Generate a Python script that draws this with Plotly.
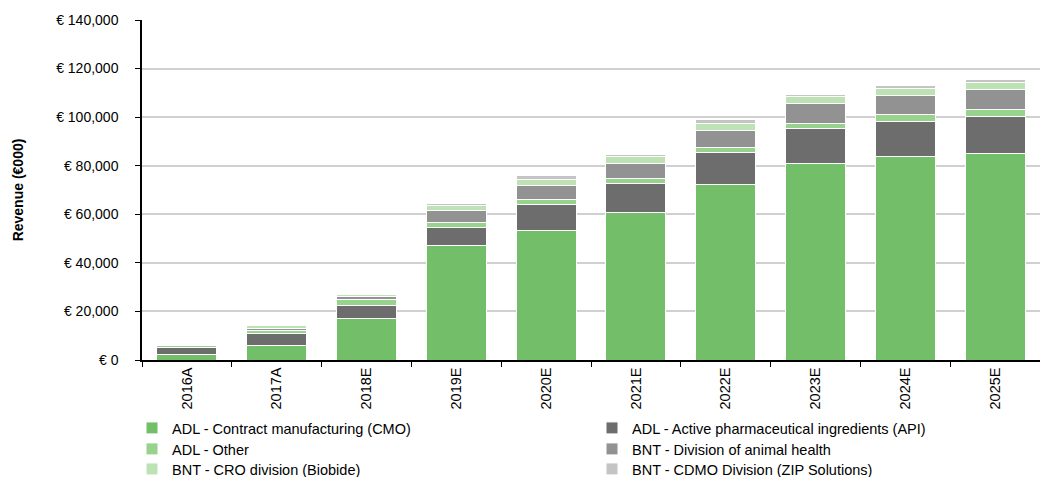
import plotly.graph_objects as go

years = ["2016A", "2017A", "2018E", "2019E", "2020E", "2021E", "2022E", "2023E", "2024E", "2025E"]

adl_cmo = [2100, 5900, 16900, 47100, 53200, 60800, 72200, 81000, 83600, 85100]
adl_api = [3200, 5100, 5600, 7400, 10700, 11800, 13200, 14300, 14500, 15200]
adl_other = [800, 1000, 2300, 2300, 2200, 2300, 2300, 2200, 2900, 3000]
bnt_animal = [300, 900, 1200, 4600, 5800, 6200, 6700, 8100, 8000, 8100]
bnt_cro = [500, 1200, 1100, 2300, 2500, 2900, 3100, 2900, 3000, 2900]
bnt_cdmo = [200, 350, 200, 800, 1650, 800, 1400, 800, 1000, 1200]

names = [
    "ADL - Contract manufacturing (CMO)",
    "ADL - Active pharmaceutical ingredients (API)",
    "ADL - Other",
    "BNT - Division of animal health",
    "BNT - CRO division (Biobide)",
    "BNT - CDMO Division (ZIP Solutions)",
]
values = [adl_cmo, adl_api, adl_other, bnt_animal, bnt_cro, bnt_cdmo]
colors = ["#73bf69", "#6d6d6d", "#97d38c", "#929292", "#bde3b4", "#c4c4c4"]

FONT = "Liberation Sans"
W, H = 1040, 477
L, R, T, B = 142, 0, 20, 117
PW = W - L - R

# legend grid: two columns, three rows (pixel anchors)
col_x = [132, 592]
row_y = [428, 449, 469]

fig = go.Figure()
layout_legends = {}
for i, (name, vals, color) in enumerate(zip(names, values, colors)):
    key = "legend" if i == 0 else f"legend{i + 1}"
    fig.add_trace(go.Bar(
        x=years, y=vals, name=name,
        marker=dict(color=color, line=dict(color="white", width=1)),
        legend=key,
    ))
    cx = col_x[i % 2]
    ry = row_y[i // 2]
    layout_legends[key] = dict(
        orientation="v", traceorder="normal",
        xref="paper", yref="container",
        x=(cx - L) / PW, y=1 - ry / H, xanchor="left", yanchor="middle",
        font=dict(family=FONT, size=14.5, color="#000000"),
        itemwidth=30, bgcolor="rgba(0,0,0,0)",
    )

fig.update_layout(
    width=W, height=H,
    barmode="stack", bargap=0.33,
    plot_bgcolor="white", paper_bgcolor="white",
    margin=dict(l=L, r=R, t=T, b=B),
    font=dict(family=FONT, size=14, color="#000000"),
    showlegend=True,
    **layout_legends,
)

fig.update_yaxes(
    range=[0, 140000], dtick=20000,
    tickprefix="€ ", tickformat=",",
    showgrid=True, gridcolor="#d0d0d0", gridwidth=1.5,
    showline=True, linecolor="#000000", linewidth=1.5,
    ticks="outside", ticklen=5, tickcolor="#000000",
    ticklabelstandoff=14,
    zeroline=False,
    title=dict(text="<b>Revenue (€000)</b>", font=dict(family=FONT, size=14), standoff=29),
    automargin=False,
)
fig.update_xaxes(
    showline=True, linecolor="#000000", linewidth=1.5,
    ticks="outside", ticklen=5, tickcolor="#000000",
    tickson="boundaries", tickangle=-90,
    tickfont=dict(family=FONT, size=14.5),
    showgrid=False,
    automargin=False,
)

fig.write_html(
    "out.html",
    config={"displayModeBar": False},
    post_script="document.body.style.margin='0';",
)
